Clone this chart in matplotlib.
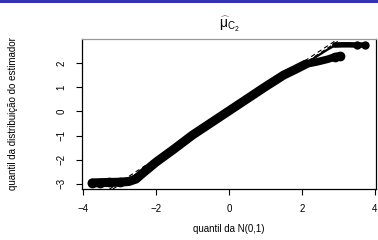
"""
Q-Q plot of the estimator mu-hat C2 against N(0,1) quantiles,
R-style axes on a beamer-like slide strip.
"""

import matplotlib
matplotlib.use('Agg')
import matplotlib.pyplot as plt

plt.rcParams['font.family'] = ['Liberation Sans', 'DejaVu Sans']
plt.rcParams['mathtext.fontset'] = 'custom'
plt.rcParams['mathtext.rm'] = 'Liberation Sans'
plt.rcParams['mathtext.it'] = 'Liberation Sans:italic'
plt.rcParams['font.size'] = 7

# Data (band of theoretical vs sample quantiles)
main_x = [-3.75, -3.55, -3.3, -3.0, -2.75, -2.55, -2.4, -2.2, -2.0, -1.8,
          -1.5, -1.0, -0.5, 0.0, 0.5, 1.0, 1.5, 1.8, 2.1]
main_y = [-2.96, -2.95, -2.94, -2.93, -2.90, -2.80, -2.60, -2.35, -2.10, -1.88,
          -1.55, -0.98, -0.48, 0.02, 0.52, 1.02, 1.50, 1.72, 1.95]

upper_x = [2.1, 2.3, 2.5, 2.7, 2.9]
upper_y = [1.98, 2.17, 2.36, 2.55, 2.72]
top_x = [2.9, 3.1, 3.3, 3.5, 3.73]
top_y = [2.74, 2.75, 2.75, 2.74, 2.74]

lower_x = [2.1, 2.4, 2.7, 2.9, 3.04]
lower_y = [1.95, 2.04, 2.15, 2.25, 2.30]

# reference lines (dashed)
line_intercepts = [0.03, -0.06]
line_slopes = [0.99, 0.99]

x_ticks = [-4, -2, 0, 2, 4]
y_ticks = [-3, -2, -1, 0, 1, 2]

fig = plt.figure(figsize=(3.78, 2.40), dpi=100)

# beamer header strip
fig.add_artist(plt.Rectangle((0, 1 - 3 / 240), 1, 3 / 240, transform=fig.transFigure,
                             color='#3333b3', lw=0))

ax = fig.add_axes([82 / 378, 1 - 189 / 240, 294 / 378, 150 / 240])

for a, b in zip(line_intercepts, line_slopes):
    ax.axline((0, a), slope=b, color='black', lw=0.8, ls=(0, (4, 3)), zorder=1)

lw_band = 6.5
ax.plot(main_x, main_y, color='black', lw=lw_band, solid_capstyle='round',
        solid_joinstyle='round', zorder=2)
ax.plot(main_x[:4], main_y[:4], 'o', color='black', ms=6, zorder=2)
ax.plot(upper_x, upper_y, color='black', lw=1.6, solid_capstyle='round', zorder=2)
ax.plot(top_x, top_y, color='black', lw=4.0, solid_capstyle='round', zorder=2)
ax.plot(top_x[-2:], top_y[-2:], 'o', color='black', ms=5, zorder=2)
ax.plot(lower_x, lower_y, color='black', lw=5.5, solid_capstyle='round', zorder=2)
ax.plot(lower_x[-2:], lower_y[-2:], 'o', color='black', ms=6, zorder=2)

ax.set_xlim(-4.03, 4.03)
ax.set_ylim(-3.21, 2.99)
ax.set_xticks(x_ticks)
ax.set_xticklabels([str(t).replace('-', '\u2212') for t in x_ticks])
ax.set_yticks(y_ticks)
ax.set_yticklabels([str(t).replace('-', '\u2212') for t in y_ticks],
                   rotation=90, va='center')
ax.tick_params(direction='out', length=4, width=0.8, pad=7, labelsize=7)

for s in ax.spines.values():
    s.set_linewidth(0.9)
ax.spines['top'].set_color('#999999')

ax.set_xlabel('quantil da N(0,1)', fontsize=7, labelpad=7)
ax.set_ylabel('quantil da distribui\u00e7\u00e3o do estimador', fontsize=7, labelpad=28)
ax.set_title(r'$\widehat{\mathrm{\mu}}_{\mathrm{C_2}}$', fontsize=10, pad=8)

fig.savefig('out.png', dpi=100)
plt.close(fig)
